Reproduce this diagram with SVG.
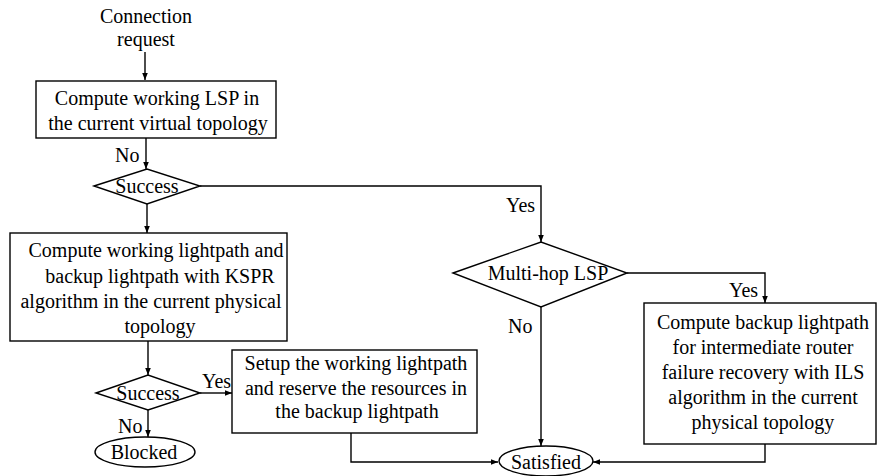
<svg xmlns="http://www.w3.org/2000/svg" width="877" height="476" viewBox="0 0 877 476">
<style>
  .s{fill:none;stroke:#000;stroke-width:1.4}
  .n{fill:#fff;stroke:#000;stroke-width:1.4}
  text{font-family:"Liberation Serif","Times New Roman",serif;font-size:20px;fill:#000}
  .c{text-anchor:middle}
</style>
<defs>
  <marker id="a" viewBox="0 0 10 10" refX="10" refY="5" markerWidth="7" markerHeight="7" markerUnits="userSpaceOnUse" orient="auto">
    <path d="M0,1 L10,5 L0,9 Z" fill="#000"/>
  </marker>
</defs>
<rect width="877" height="476" fill="#fff"/>

<g id="connectors">
  <line class="s" x1="145" y1="52" x2="145" y2="80" marker-end="url(#a)"/>
  <line class="s" x1="146" y1="138" x2="146" y2="169" marker-end="url(#a)"/>
  <line class="s" x1="147" y1="204" x2="147" y2="233" marker-end="url(#a)"/>
  <polyline class="s" points="200,186 541,186 541,242" marker-end="url(#a)"/>
  <line class="s" x1="148" y1="341" x2="148" y2="375" marker-end="url(#a)"/>
  <line class="s" x1="200" y1="393" x2="232" y2="393" marker-end="url(#a)"/>
  <line class="s" x1="148" y1="410" x2="148" y2="437" marker-end="url(#a)"/>
  <polyline class="s" points="627,273 765,273 765,303" marker-end="url(#a)"/>
  <line class="s" x1="541" y1="307" x2="541" y2="446" marker-end="url(#a)"/>
  <polyline class="s" points="351,433 351,462 498,462" marker-end="url(#a)"/>
  <polyline class="s" points="765,444 765,462 593,462" marker-end="url(#a)"/>
  <text x="115" y="162">No</text>
  <text x="506" y="212">Yes</text>
  <text x="202" y="388">Yes</text>
  <text x="118" y="433">No</text>
  <text x="729" y="297">Yes</text>
  <text x="508" y="333">No</text>
</g>

<g id="start">
  <text class="c" x="146" y="23">Connection</text>
  <text class="c" x="146" y="46">request</text>
</g>

<g id="box1">
  <rect class="n" x="36" y="81" width="240" height="57"/>
  <text class="c" x="157" y="105">Compute working LSP in</text>
  <text class="c" x="158" y="130">the current virtual topology</text>
</g>

<g id="dec1">
  <polygon class="n" points="94,186 147,169 200,186 147,204"/>
  <text class="c" x="147" y="193">Success</text>
</g>

<g id="box2">
  <rect class="n" x="10" y="233" width="277" height="108"/>
  <text class="c" x="156" y="257">Compute working lightpath and</text>
  <text class="c" x="160" y="283">backup lightpath with KSPR</text>
  <text class="c" x="151" y="308">algorithm in the current physical</text>
  <text class="c" x="160" y="333">topology</text>
</g>

<g id="dec2">
  <polygon class="n" points="96,393 148,375 200,393 148,410"/>
  <text class="c" x="148" y="400">Success</text>
</g>

<g id="blocked">
  <ellipse class="n" cx="145" cy="452" rx="50" ry="15"/>
  <text class="c" x="144" y="459">Blocked</text>
</g>

<g id="setup">
  <rect class="n" x="232" y="350" width="245" height="83"/>
  <text class="c" x="356" y="370">Setup the working lightpath</text>
  <text class="c" x="356" y="395">and reserve the resources in</text>
  <text class="c" x="357" y="418">the backup lightpath</text>
</g>

<g id="multihop">
  <polygon class="n" points="453,273 541,242 627,273 541,307"/>
  <text class="c" x="548" y="280">Multi-hop LSP</text>
</g>

<g id="backup">
  <rect class="n" x="644" y="303" width="232" height="141"/>
  <text class="c" x="763" y="329">Compute backup lightpath</text>
  <text class="c" x="763" y="354">for intermediate router</text>
  <text class="c" x="763" y="379">failure recovery with ILS</text>
  <text class="c" x="763" y="404">algorithm in the current</text>
  <text class="c" x="763" y="429">physical topology</text>
</g>

<g id="satisfied">
  <ellipse class="n" cx="546" cy="461" rx="47" ry="15"/>
  <text class="c" x="546" y="469">Satisfied</text>
</g>
</svg>
